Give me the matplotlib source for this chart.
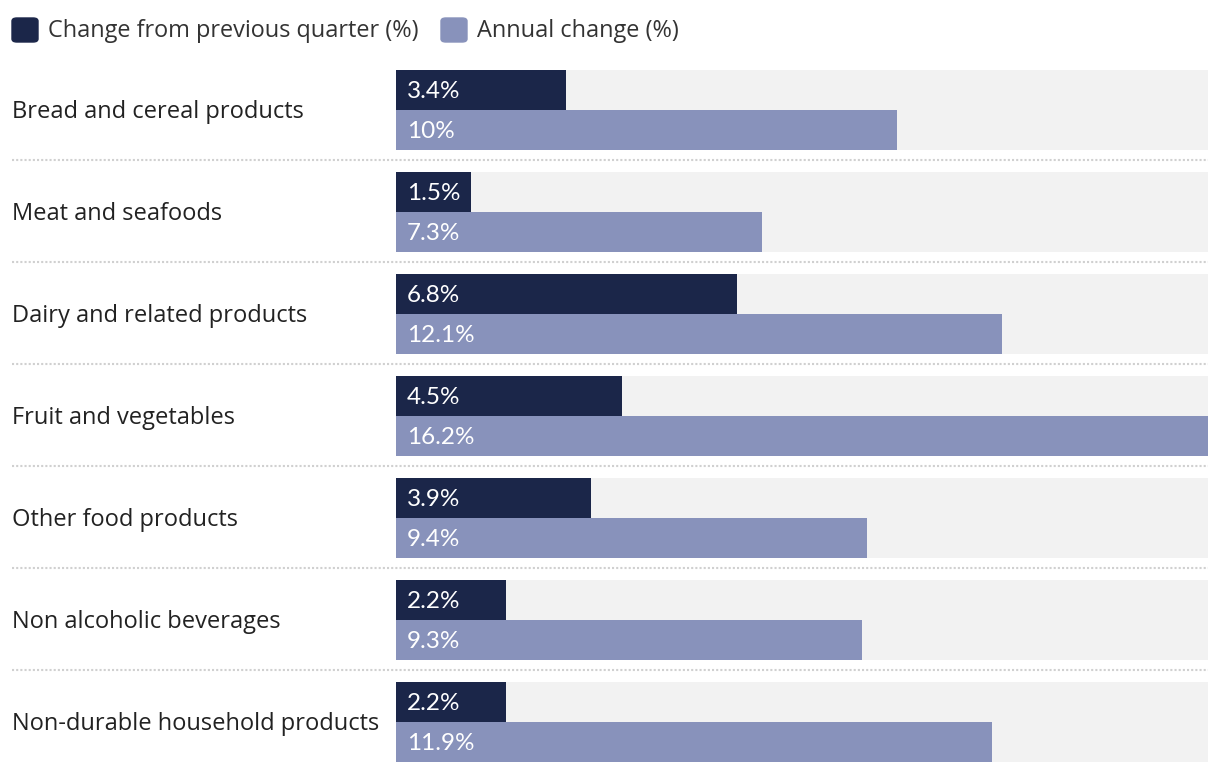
import matplotlib.pyplot as plt
from matplotlib.patches import FancyBboxPatch
from matplotlib.transforms import blended_transform_factory
import numpy as np

categories = ['Bread and cereal products', 'Meat and seafoods', 'Dairy and related products',
              'Fruit and vegetables', 'Other food products', 'Non alcoholic beverages',
              'Non-durable household products']
quarter = [3.4, 1.5, 6.8, 4.5, 3.9, 2.2, 2.2]
annual = [10, 7.3, 12.1, 16.2, 9.4, 9.3, 11.9]
quarter_labels = ['3.4%', '1.5%', '6.8%', '4.5%', '3.9%', '2.2%', '2.2%']
annual_labels = ['10%', '7.3%', '12.1%', '16.2%', '9.4%', '9.3%', '11.9%']
series = ['Change from previous quarter (%)', 'Annual change (%)']

dark = '#1b2649'
light = '#8892bb'
bg = '#f2f2f2'
txt = '#222222'

W, H = 1220, 774
fig = plt.figure(figsize=(W / 100, H / 100), dpi=100)
# axes spans bar area: x 396..1208 px, y 70..774 px
ax = fig.add_axes([396 / W, 0, 812 / W, 704 / H])
step = 102
bh = 40 / step
xmax = max(annual)
ax.set_xlim(0, xmax)
ax.set_ylim(704 / step, 0)
ax.axis('off')

y = np.arange(len(categories))
ax.barh(y, xmax, height=2 * bh, align='edge', color=bg, zorder=0)
ax.barh(y, quarter, height=bh, align='edge', color=dark, zorder=1)
ax.barh(y + bh, annual, height=bh, align='edge', color=light, zorder=1)

off = 11 / 812 * xmax
for i in range(len(categories)):
    ax.text(off, i + bh / 2 + 0.01, quarter_labels[i], color='white', fontsize=17.5,
            family='Lato', va='center', ha='left', zorder=2)
    ax.text(off, i + 1.5 * bh + 0.01, annual_labels[i], color='white', fontsize=17.5,
            family='Lato', va='center', ha='left', zorder=2)

tr = blended_transform_factory(fig.transFigure, ax.transData)
for i, c in enumerate(categories):
    ax.text(12 / W, i + bh + 0.015, c, transform=tr, fontsize=17, family='Open Sans',
            color=txt, va='center', ha='left')
    if i < len(categories) - 1:
        ax.plot([12 / W, 1208 / W], [i + 90 / step] * 2, transform=tr, clip_on=False,
                color='#d0d0d0', lw=1.5, ls=(0, (1, 1)))

# legend
lx = [12, 441]
for k, name in enumerate(series):
    col = dark if k == 0 else light
    sq = FancyBboxPatch((lx[k] / W, (H - 42) / H), 26 / W, 24 / H,
                        boxstyle='round,pad=0,rounding_size=0.004',
                        transform=fig.transFigure, color=col)
    fig.patches.append(sq)
    fig.text((lx[k] + 36) / W, (H - 31) / H, name, fontsize=16.9, family='Open Sans',
             color='#333333', va='center', ha='left')

fig.savefig('out.png', dpi=100)
